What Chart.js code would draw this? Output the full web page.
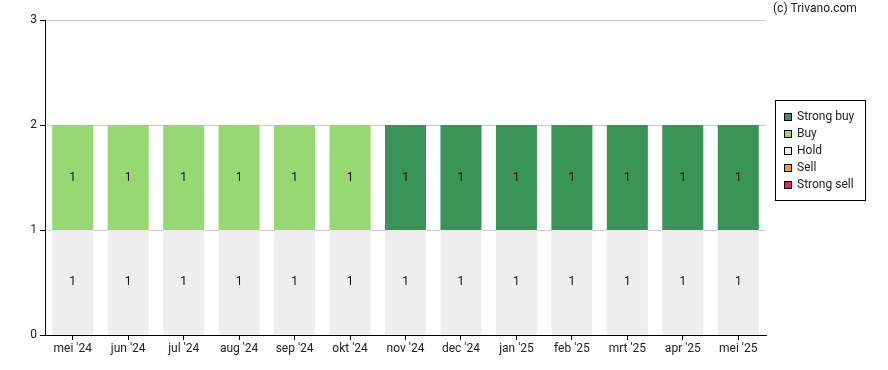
<!DOCTYPE html>
<html>
<head>
<meta charset="utf-8">
<script src="https://cdn.jsdelivr.net/npm/chart.js@4"></script>
<style>
  body { margin: 0; background: #fff; }
  canvas { display: block; }
</style>
</head>
<body>
<canvas id="chart" width="888" height="370"></canvas>
<script>
const months = ["mei '24", "jun '24", "jul '24", "aug '24", "sep '24", "okt '24", "nov '24",
  "dec '24", "jan '25", "feb '25", "mrt '25", "apr '25", "mei '25"];
const strongSell = [0, 0, 0, 0, 0, 0, 0, 0, 0, 0, 0, 0, 0];
const sell       = [0, 0, 0, 0, 0, 0, 0, 0, 0, 0, 0, 0, 0];
const hold       = [1, 1, 1, 1, 1, 1, 1, 1, 1, 1, 1, 1, 1];
const buy        = [1, 1, 1, 1, 1, 1, 0, 0, 0, 0, 0, 0, 0];
const strongBuy  = [0, 0, 0, 0, 0, 0, 1, 1, 1, 1, 1, 1, 1];
const yTicks = [0, 1, 2, 3];

const FONT = 'Roboto, "Liberation Sans", sans-serif';

// labels in the middle of each non-empty bar piece
const valueLabels = {
  id: 'valueLabels',
  afterDatasetsDraw(chart) {
    const ctx = chart.ctx;
    ctx.save();
    ctx.font = '12px ' + FONT;
    ctx.fillStyle = '#111';
    ctx.textAlign = 'center';
    ctx.textBaseline = 'middle';
    chart.data.datasets.forEach((ds, i) => {
      chart.getDatasetMeta(i).data.forEach((bar, j) => {
        const v = ds.data[j];
        if (!v) return;
        ctx.fillText(String(v), bar.x, (bar.y + bar.base) / 2);
      });
    });
    ctx.restore();
  }
};

// boxed legend + copyright on the right
const sideLegend = {
  id: 'sideLegend',
  afterDraw(chart) {
    const ctx = chart.ctx;
    ctx.save();
    ctx.font = '12px ' + FONT;
    ctx.fillStyle = '#222';
    ctx.textBaseline = 'middle';
    ctx.fillText('(c) Trivano.com', 773, 9);

    ctx.strokeStyle = '#000';
    ctx.lineWidth = 1;
    ctx.strokeRect(775.5, 100.5, 90, 100);
    const items = chart.data.datasets.slice().reverse();
    items.forEach((ds, i) => {
      const y = 117 + i * 17;
      ctx.fillStyle = ds.backgroundColor;
      ctx.fillRect(784, y - 4, 8, 8);
      ctx.strokeRect(784.5, y - 3.5, 7, 7);
      ctx.fillStyle = '#222';
      ctx.fillText(ds.label, 797, y);
    });
    ctx.restore();
  }
};

new Chart(document.getElementById('chart'), {
  type: 'bar',
  data: {
    labels: months,
    datasets: [
      { label: 'Strong sell', data: strongSell, backgroundColor: '#e8283f' },
      { label: 'Sell', data: sell, backgroundColor: '#f79552' },
      { label: 'Hold', data: hold, backgroundColor: '#eeeeee' },
      { label: 'Buy', data: buy, backgroundColor: '#98d873' },
      { label: 'Strong buy', data: strongBuy, backgroundColor: '#3a9457' }
    ]
  },
  options: {
    responsive: false,
    animation: false,
    layout: { padding: { top: 20, right: 122, left: 0, bottom: 0 } },
    datasets: { bar: { barPercentage: 0.74, categoryPercentage: 1 } },
    plugins: { legend: { display: false }, tooltip: { enabled: false } },
    scales: {
      x: {
        stacked: true,
        afterFit: s => { s.height = 35; },
        grid: { drawOnChartArea: false, offset: false, tickColor: '#000', tickLength: 5 },
        border: { color: '#000', width: 1 },
        ticks: { color: '#222', font: { family: FONT, size: 12 }, padding: 2, maxRotation: 0, autoSkip: false }
      },
      y: {
        stacked: true,
        min: 0,
        max: 3,
        afterFit: s => { s.width = 45; },
        afterBuildTicks: s => { s.ticks = yTicks.map(v => ({ value: v })); },
        grid: { color: '#cccccc', tickColor: '#000', tickLength: 5 },
        border: { color: '#000', width: 1 },
        ticks: { color: '#222', font: { family: FONT, size: 12 }, padding: 3 }
      }
    }
  },
  plugins: [valueLabels, sideLegend]
});
</script>
</body>
</html>
